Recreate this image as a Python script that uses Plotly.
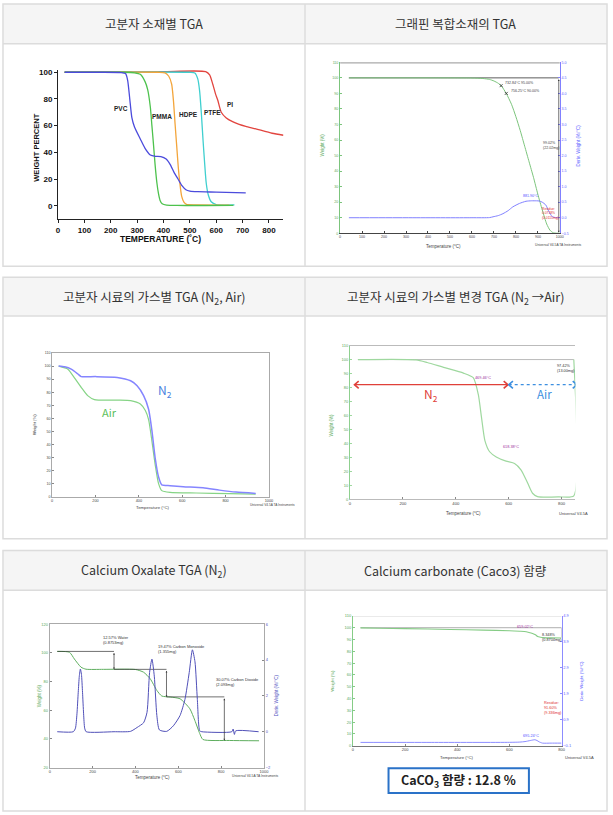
import plotly.graph_objects as go

FW, FH = 613, 815

# ---------------- DATA ----------------
header_texts = [
    "고분자 소재별 TGA",
    "그래핀 복합소재의 TGA",
    "고분자 시료의 가스별 TGA (N<sub>2</sub>, Air)",
    "고분자 시료의 가스별 변경 TGA (N<sub>2</sub> →Air)",
    "Calcium Oxalate TGA (N<sub>2</sub>)",
    "Calcium carbonate (Caco3) 함량",
]

# Chart 1: polymer TGA
c1_pvc_T = [25, 150, 240, 256, 264, 272, 280, 290, 312, 330, 350, 370, 390, 410, 425, 440, 455, 470, 485, 500, 530, 600, 712]
c1_pvc_W = [100, 100, 99.8, 99, 94, 80, 66, 59, 50, 43, 38, 37, 36.8, 35, 31, 25, 20, 15, 12, 11, 10.5, 10.2, 9.6]
c1_pmma_T = [25, 250, 290, 312, 330, 340, 350, 356, 362, 368, 375, 381, 387, 395, 412, 450, 665]
c1_pmma_W = [100, 100, 99.6, 98.5, 93, 87, 74, 60, 46, 31, 17, 9, 4, 1.5, 0.5, 0.2, 0.3]
c1_hdpe_T = [25, 380, 406, 420, 431, 438, 444, 450, 456, 462, 469, 478, 487, 520, 650]
c1_hdpe_W = [100, 100, 99.5, 97, 91, 78, 61, 45, 29, 17, 7, 2.5, 1, 0.6, 0.5]
c1_ptfe_T = [25, 500, 519, 530, 537, 544, 550, 556, 562, 570, 581, 600, 669]
c1_ptfe_W = [100, 100, 99.5, 95, 86, 68, 49, 32, 17, 8, 3, 0.8, 0.6]
c1_pi_T = [25, 200, 400, 560, 575, 587, 597, 606, 619, 637, 662, 687, 712, 750, 812, 855]
c1_pi_W = [100, 100.2, 100.5, 100.5, 98, 91, 84, 79, 70, 66, 63, 61, 59.5, 57.6, 54.3, 52.8]
c1_label_names = ["PVC", "PMMA", "HDPE", "PTFE", "PI"]
c1_label_T = [237, 394, 494, 587, 652]
c1_label_W = [72.5, 67, 68, 70, 76]
c1_xticks = [0, 100, 200, 300, 400, 500, 600, 700, 800]
c1_yticks = [0, 20, 40, 60, 80, 100]

# Chart 2: graphene composite TGA
c2_T = [40, 200, 400, 600, 650, 680, 700, 720, 733, 756, 780, 800, 820, 840, 860, 880, 900, 920, 940, 955, 970, 985, 1000]
c2_W = [100, 100, 100, 99.9, 99.6, 99, 98, 96.5, 95, 90, 83, 75, 66, 56, 46, 36, 25, 15, 6, 2, 0.3, 0.05, 0.02]
c2_dT = [40, 300, 600, 680, 696, 720, 741, 765, 786, 816, 846, 870, 883, 905, 920, 936, 950, 965, 980, 1000]
c2_dW = [0, 0, 0, 0.005, 0.03, 0.07, 0.13, 0.23, 0.35, 0.46, 0.53, 0.545, 0.545, 0.54, 0.5, 0.41, 0.2, 0.04, 0.005, 0]
c2_mark_T = [732.84, 756.25]
c2_mark_W = [95.0, 90.0]
c2_step_T = [40, 995]
c2_step_W = [100, 0]

# Chart 3: polymer TGA in N2 and Air
c3_n2_T = [30, 58, 88, 119, 134, 200, 300, 362, 392, 422, 445, 460, 475, 491, 506, 544, 605, 696, 772, 848, 939]
c3_n2_W = [100.2, 99.5, 97.7, 94, 92, 92, 91.4, 88.8, 85, 77.4, 67, 51, 30, 15, 9, 8.4, 7.6, 6.8, 5, 3.5, 2.5]
c3_air_T = [30, 73, 103, 134, 164, 195, 300, 362, 407, 430, 445, 460, 475, 491, 506, 544, 665, 817, 939]
c3_air_W = [100, 97.7, 91, 83.8, 77.4, 74.4, 74, 73.6, 71, 66, 59, 43, 25, 10, 4.6, 3.3, 2.8, 2.3, 2]

# Chart 4: gas switch N2 -> Air
c4_T = [30, 250, 292, 354, 429, 466, 485, 497, 510, 528, 553, 590, 622, 647, 672, 690, 709, 790, 846, 846]
c4_W = [100, 99.8, 97.9, 94.4, 90.3, 87, 75, 58.8, 42, 34, 30.3, 27.3, 25.6, 20.9, 11.4, 4.3, 1.9, 1.7, 2.4, 100]
c4_ref_T = [30, 846]
c4_ref_W = [100, 100]
c4_n2_range = [17, 597]
c4_air_range = [600, 858]
c4_arrow_W = 82

# Chart 5: calcium oxalate
c5_T = [35, 92, 115, 146, 169, 250, 400, 438, 469, 500, 523, 562, 608, 654, 677, 700, 715, 838, 977]
c5_W = [101, 100.4, 95.7, 90, 88.6, 88.5, 88.4, 86.5, 81.9, 73.8, 69.9, 69.2, 68, 61, 53, 43.8, 39.6, 38.9, 38.7]
c5_dT = [35, 110, 120, 127, 133, 138, 143, 148, 153, 158, 163, 170, 300, 377, 408, 438, 454, 466, 477, 488, 500, 512,
         546, 577, 608, 631, 651, 666, 678, 689, 700, 710, 850, 856, 862, 868, 975]
c5_dW = [0, 0, 0.2, 1.0, 2.2, 3.1, 3.5, 3.2, 2.2, 1.0, 0.2, 0, 0, 0.02, 0.24, 0.5, 1.08, 3.3, 4.05, 3.1, 0.9, 0.1,
         0.02, 0.33, 0.9, 1.8, 3.3, 4.57, 3.9, 1.8, 0.05, 0, 0, 0.15, -0.15, 0.05, 0]
c5_step_T = [35, 300, 545, 815]
c5_step_W = [101, 88.5, 69.3, 38.8]

# Chart 6: calcium carbonate
c6_T = [29, 100, 200, 373, 500, 600, 640, 657, 675, 689, 700, 708, 720, 727, 760, 800]
c6_W = [99.9, 99.6, 99.2, 98.5, 98, 97.4, 97, 96.8, 96, 95.1, 94, 92.6, 91.9, 91.6, 91.4, 91.3]
c6_dT = [29, 300, 600, 640, 660, 680, 690, 698, 706, 714, 727, 760, 800]
c6_dW = [0.028, 0.028, 0.03, 0.04, 0.06, 0.1, 0.12, 0.13, 0.1, 0.05, 0.0, 0.0, 0.0]
c6_ref_T = [29, 800, 800]
c6_ref_W = [100, 100, 91.6]
caco3_text = "CaCO<sub>3</sub> 함량 : 12.8 %"

# ---------------- HELPERS ----------------
SANS = "Liberation Sans, Arial, sans-serif"
KR = "Noto Sans CJK KR, Noto Sans, sans-serif"


def r(n):
    return "" if n == 1 else str(n)


def xdom(a, b):
    return [a / FW, b / FW]


def ydom(top, bot):
    return [1 - bot / FH, 1 - top / FH]


def px(x):
    return x / FW


def py(y):
    return 1 - y / FH


layout = dict(
    width=FW, height=FH, margin=dict(l=0, r=0, t=0, b=0),
    paper_bgcolor="white", plot_bgcolor="rgba(0,0,0,0)", showlegend=False,
    font=dict(family=SANS, color="#333"),
)
shapes = []
annotations = []
fig = go.Figure()


def xax(n, dom, rng, yn, **kw):
    d = dict(domain=xdom(*dom), range=rng, anchor="y" + r(yn), showgrid=False, zeroline=False,
             fixedrange=True)
    d.update(kw)
    layout["xaxis" + r(n)] = d


def yax(n, dom, rng, xn, **kw):
    d = dict(domain=ydom(*dom), range=rng, anchor="x" + r(xn), showgrid=False, zeroline=False,
             fixedrange=True)
    d.update(kw)
    layout["yaxis" + r(n)] = d


def line(x, y, xn, yn, color, width=1.0, dash="solid"):
    fig.add_trace(go.Scatter(x=x, y=y, xaxis="x" + r(xn), yaxis="y" + r(yn), mode="lines",
                             line=dict(color=color, width=width, dash=dash, shape="spline", smoothing=0.6),
                             hoverinfo="skip"))


def straight(x, y, xn, yn, color, width=1.0, dash="solid"):
    fig.add_trace(go.Scatter(x=x, y=y, xaxis="x" + r(xn), yaxis="y" + r(yn), mode="lines",
                             line=dict(color=color, width=width, dash=dash), hoverinfo="skip"))


def ann(text, x, y, xref="paper", yref="paper", size=5, color="#333", family=SANS, weight="normal", **kw):
    d = dict(text=text, x=x, y=y, xref=xref, yref=yref, showarrow=False,
             xanchor="center", yanchor="middle",
             font=dict(size=size, color=color, family=family, weight=weight))
    d.update(kw)
    annotations.append(d)


def arrow(xn, yn, x0, y0, x1, y1, color="#222", size=0.5, width=0.7):
    annotations.append(dict(text="", x=x1, y=y1, ax=x0, ay=y0, xref="x" + r(xn), yref="y" + r(yn),
                            axref="x" + r(xn), ayref="y" + r(yn), showarrow=True, arrowhead=2,
                            arrowside="end+start", arrowsize=size, arrowwidth=width, arrowcolor=color))


# ---------------- TABLE FRAME ----------------
BORDER = "#dcdcdc"
tables = [(1, 265, 41), (276, 539, 315), (551, 813, 591)]
for top, bot, hb in tables:
    shapes.append(dict(type="rect", xref="paper", yref="paper", x0=px(1), x1=px(612), y0=py(hb), y1=py(top),
                       fillcolor="#f5f5f5", line=dict(width=0), layer="below"))
    shapes.append(dict(type="rect", xref="paper", yref="paper", x0=px(1), x1=px(612), y0=py(bot), y1=py(top),
                       fillcolor="rgba(0,0,0,0)", line=dict(color=BORDER, width=1.5), layer="below"))
    shapes.append(dict(type="line", xref="paper", yref="paper", x0=px(1), x1=px(612), y0=py(hb), y1=py(hb),
                       line=dict(color=BORDER, width=1.5), layer="below"))
    shapes.append(dict(type="line", xref="paper", yref="paper", x0=px(306.5), x1=px(306.5), y0=py(bot), y1=py(top),
                       line=dict(color=BORDER, width=1.5), layer="below"))

header_pos = [(154, 21), (459, 21), (154, 296), (459, 296), (154, 571), (459, 571)]
for t, (hx, hy) in zip(header_texts, header_pos):
    ann(t, px(hx), py(hy), size=12.5, color="#333", family=KR)

# ---------------- CHART 1 ----------------
tf1 = dict(family=SANS, size=8, color="#111", weight="bold")
xax(1, (56.7, 284.7), [0, 855], 1, showline=True, linecolor="#222", linewidth=1, ticks="outside",
    ticklen=3, tickcolor="#222", tickvals=c1_xticks, tickfont=tf1)
yax(1, (67, 217.4), [-10, 102], 1, showline=True, linecolor="#222", linewidth=1, ticks="outside",
    ticklen=3, tickcolor="#222", tickvals=c1_yticks, tickfont=tf1)
for T, Wv, col in [(c1_pi_T, c1_pi_W, "#e2453f"), (c1_ptfe_T, c1_ptfe_W, "#3fcfcf"),
                   (c1_hdpe_T, c1_hdpe_W, "#f3a53b"), (c1_pmma_T, c1_pmma_W, "#4dc24d"),
                   (c1_pvc_T, c1_pvc_W, "#4b4bdc")]:
    line(T, Wv, 1, 1, col, 1.3)
for nm, t, w in zip(c1_label_names, c1_label_T, c1_label_W):
    ann(nm, t, w, "x", "y", size=6.5, color="#222", weight="bold")
ann("TEMPERATURE (˚C)", px(160), py(237), size=8.5, color="#111", weight="bold")
ann("WEIGHT PERCENT", px(35), py(146), size=7.5, color="#111", weight="bold", textangle=-90)

# ---------------- CHART 2 ----------------
G2, B2 = "#7cc47c", "#8080ff"
xax(2, (342, 564.3), [0, 1000], 2, showline=True, linecolor="#444", linewidth=0.8, ticks="inside", ticklen=2,
    tickcolor="#444", dtick=100, tickfont=dict(size=3.6, color="#444", family=SANS))
yax(2, (59.7, 231.7), [0, 110], 2, showline=True, linecolor=G2, linewidth=1, ticks="inside", ticklen=2,
    tickcolor=G2, dtick=10, tickfont=dict(size=3.6, color="#5aa85a", family=SANS))
yax(3, (59.7, 231.7), [-0.5, 5.0], 2, overlaying="y2", side="right", showline=True, linecolor=B2, linewidth=1,
    ticks="inside", ticklen=2, tickcolor=B2, dtick=0.5, tickformat=".1f",
    tickfont=dict(size=3.6, color="#6060ff", family=SANS))
shapes.append(dict(type="line", xref="x2", yref="y2", x0=0, x1=1000, y0=110, y1=110,
                   line=dict(color="#aaaaaa", width=2.5)))
straight(c2_step_T, [c2_step_W[0], c2_step_W[0]], 2, 2, "#333", 0.8)
arrow(2, 2, c2_step_T[1], c2_step_W[0], c2_step_T[1], c2_step_W[1] + 0.5, "#333", 0.5, 0.7)
line(c2_T, c2_W, 2, 2, G2, 1.0)
line(c2_dT, c2_dW, 2, 3, B2, 1.0)
fig.add_trace(go.Scatter(x=c2_mark_T, y=c2_mark_W, xaxis="x2", yaxis="y2", mode="markers",
                         marker=dict(symbol="x-thin", size=3, line=dict(color="#333", width=0.8)), hoverinfo="skip"))
ann("732.84°C 95.00%", 742, 96.6, "x2", "y2", size=3.6, color="#444", xanchor="left")
ann("756.25°C 90.00%", 768, 91.7, "x2", "y2", size=3.6, color="#444", xanchor="left")
ann("99.02%<br>(22.02mg)", 913, 56.5, "x2", "y2", size=3.6, color="#444", xanchor="left", align="left")
ann("881.90°C", 866, 24.3, "x2", "y2", size=3.6, color="#5050ff")
ann("Residue:<br>0.0718%<br>(0.0115mg)", 911, 12.5, "x2", "y2", size=3.3, color="#e03030", xanchor="left",
    align="left")
ann("Weight (%)", px(324), py(143), size=4.5, color="#5aa85a", textangle=-90)
ann("Deriv. Weight (%/°C)", px(583), py(143), size=4.5, color="#6060ff", textangle=-90)
ann("Temperature (°C)", px(447), py(245), size=4.5, color="#444")
ann("Universal V4.5A TA Instruments", px(563), py(243.7), size=3.3, color="#444")

# ---------------- CHART 3 ----------------
xax(3, (50.7, 270), [0, 1000], 4, showline=True, mirror=True, linecolor="#aaa", linewidth=0.8, ticks="inside",
    ticklen=2, tickcolor="#888", dtick=200, tickfont=dict(size=3.8, color="#444", family=SANS))
yax(4, (352.3, 496.7), [0, 110], 3, showline=True, mirror=True, linecolor="#aaa", linewidth=0.8, ticks="inside",
    ticklen=2, tickcolor="#888", dtick=10, tickfont=dict(size=3.6, color="#444", family=SANS))
line(c3_air_T, c3_air_W, 3, 4, "#86d486", 1.2)
line(c3_n2_T, c3_n2_W, 3, 4, "#8585ff", 1.5)
ann("N<sub>2</sub>", 521, 81, "x3", "y4", size=12, color="#4a7fe0", family=KR)
ann("Air", 263, 64.7, "x3", "y4", size=11, color="#5cbf5c", family=KR)
ann("Weight (%)", px(33), py(424), size=4.2, color="#444", textangle=-90)
ann("Temperature (°C)", px(153), py(507.7), size=4.3, color="#444")
ann("Universal V4.5A TA Instruments", px(249), py(505), size=3.2, color="#444", xanchor="left")

# ---------------- CHART 4 ----------------
G4 = "#9fd89f"
xax(4, (352, 580), [0, 852], 5, showline=True, mirror=True, linecolor="#bbb", linewidth=0.8, ticks="inside",
    ticklen=2, tickcolor="#888", tickvals=[0, 200, 400, 600, 800],
    tickfont=dict(size=4.2, color="#444", family=SANS))
yax(5, (344.7, 499.3), [0, 110], 4, showline=True, linecolor="#8fd08f", linewidth=1, ticks="inside",
    ticklen=2, tickcolor=G4, dtick=10, tickfont=dict(size=4.0, color="#5aa85a", family=SANS))
straight(c4_ref_T, c4_ref_W, 4, 5, "#aaaaaa", 0.8)
line(c4_T, c4_W, 4, 5, G4, 1.2)
# arrows (line + open chevrons)
adx, ady = 16, 2.6
a0, a1 = c4_n2_range
straight([a0, a1], [c4_arrow_W, c4_arrow_W], 4, 5, "#e0403a", 1.3)
straight([a0 + adx, a0, a0 + adx], [c4_arrow_W + ady, c4_arrow_W, c4_arrow_W - ady], 4, 5, "#e0403a", 1.6)
straight([a1 - adx, a1, a1 - adx], [c4_arrow_W + ady, c4_arrow_W, c4_arrow_W - ady], 4, 5, "#e0403a", 1.6)
b0, b1 = c4_air_range
straight([b0, b1], [c4_arrow_W, c4_arrow_W], 4, 5, "#3d8fe0", 1.3, "dot")
straight([b0 + adx, b0, b0 + adx], [c4_arrow_W + ady, c4_arrow_W, c4_arrow_W - ady], 4, 5, "#3d8fe0", 1.6)
straight([b1 - adx, b1, b1 - adx], [c4_arrow_W + ady, c4_arrow_W, c4_arrow_W - ady], 4, 5, "#3d8fe0", 1.6)
ann("N<sub>2</sub>", 308, 75, "x4", "y5", size=12, color="#e0403a", family=KR)
ann("Air", 734, 75, "x4", "y5", size=11.5, color="#3d8fe0", family=KR)
ann("469.46°C", 503, 86.8, "x4", "y5", size=3.8, color="#a030a0")
ann("618.38°C", 609, 37.7, "x4", "y5", size=3.8, color="#a030a0")
ann("97.42%<br>(13.00mg)", 776, 93.7, "x4", "y5", size=3.8, color="#333", xanchor="left", align="left")
ann("Weight (%)", px(333), py(425), size=4.5, color="#5aa85a", textangle=-90)
ann("Temperature (°C)", px(467), py(513.7), size=4.5, color="#444")
ann("Universal V4.5A", px(578), py(513.7), size=4.0, color="#444")

# ---------------- CHART 5 ----------------
G5, B5 = "#5fae5f", "#5050b8"
xax(5, (48.3, 265), [0, 1000], 6, showline=True, mirror=True, linecolor="#aaa", linewidth=0.8, ticks="inside",
    ticklen=2, tickcolor="#888", dtick=200, tickfont=dict(size=4.0, color="#444", family=SANS))
yax(6, (625, 769.3), [20, 120], 5, showline=True, linecolor="#aaa", linewidth=0.8, ticks="inside",
    ticklen=2, tickcolor="#888", dtick=20, tickfont=dict(size=4.0, color="#5aa85a", family=SANS))
yax(7, (625, 769.3), [-2, 6], 5, overlaying="y6", side="right", showline=True, linecolor="#aaa", linewidth=0.8,
    ticks="inside", ticklen=2, tickcolor="#888", dtick=2, tickfont=dict(size=4.0, color="#5050c0", family=SANS))
line(c5_dT, c5_dW, 5, 7, B5, 1.0)
line(c5_T, c5_W, 5, 6, G5, 1.0)
for i in range(len(c5_step_T) - 1):
    straight([c5_step_T[i], c5_step_T[i + 1]], [c5_step_W[i], c5_step_W[i]], 5, 6, "#333", 0.7)
    arrow(5, 6, c5_step_T[i + 1], c5_step_W[i], c5_step_T[i + 1], c5_step_W[i + 1], "#333", 0.5, 0.7)
ann("12.57% Water<br>(0.8753mg)", 240, 109.2, "x5", "y6", size=4.0, color="#333", xanchor="left", align="left")
ann("19.47% Carbon Monoxide<br>(1.355mg)", 494, 102.7, "x5", "y6", size=4.0, color="#333", xanchor="left",
    align="left")
ann("30.07% Carbon Dioxide<br>(2.093mg)", 766, 80, "x5", "y6", size=4.0, color="#333", xanchor="left",
    align="left")
ann("Weight (%)", px(38), py(697), size=4.5, color="#5aa85a", textangle=-90)
ann("Deriv. Weight (%/°C)", px(277.7), py(697), size=4.5, color="#5050c0", textangle=-90)
ann("Temperature (°C)", px(152), py(779.3), size=4.5, color="#444")
ann("Universal V4.5A TA Instruments", px(256), py(778), size=3.3, color="#444")

# ---------------- CHART 6 ----------------
G6, B6 = "#86cc86", "#8c8cff"
xax(6, (355, 566), [0, 800], 8, showline=True, linecolor="#777", linewidth=0.8, ticks="inside",
    ticklen=2, tickcolor="#888", dtick=200, tickfont=dict(size=4.0, color="#444", family=SANS))
yax(8, (616.7, 747.3), [0, 110], 6, showline=True, linecolor=G6, linewidth=0.8, ticks="inside",
    ticklen=2, tickcolor=G6, dtick=10, tickfont=dict(size=4.0, color="#5aa85a", family=SANS))
yax(9, (616.7, 747.3), [-0.1, 4.9], 6, overlaying="y8", side="right", showline=True, linecolor=B6,
    linewidth=0.8, ticks="inside", ticklen=2, tickcolor=B6, tickvals=[-0.1, 0.9, 1.9, 2.9, 3.9, 4.9],
    tickformat=".1f", tickfont=dict(size=4.0, color="#6060ff", family=SANS))
shapes.append(dict(type="line", xref="x6", yref="y8", x0=0, x1=800, y0=110, y1=110,
                   line=dict(color="#cccccc", width=1)))
straight(c6_ref_T, c6_ref_W, 6, 8, "#999999", 0.8)
line(c6_T, c6_W, 6, 8, G6, 1.1)
line(c6_dT, c6_dW, 6, 9, B6, 1.0)
ann("659.02°C", 661, 100.8, "x6", "y8", size=3.8, color="#a030a0")
ann("8.348%<br>(0.8704mg)", 716, 91.8, "x6", "y8", size=3.8, color="#333", xanchor="left", align="left")
ann("Residue:<br>91.60%<br>(9.336mg)", 726, 32, "x6", "y8", size=3.8, color="#e03030", xanchor="left",
    align="left")
ann("695.24°C", 683, 8.4, "x6", "y8", size=3.8, color="#5050ff")
ann("Weight (%)", px(334), py(681.7), size=4.3, color="#5aa85a", textangle=-90)
ann("Deriv. Weight (%/°C)", px(586), py(681.7), size=4.3, color="#6060ff", textangle=-90)
ann("Temperature (°C)", px(460), py(759.3), size=4.3, color="#444")
ann("Universal V4.5A", px(567), py(759.3), size=4.0, color="#444", xanchor="left")

shapes.append(dict(type="rect", xref="paper", yref="paper", x0=px(391), x1=px(533), y0=py(795), y1=py(770),
                   fillcolor="white", line=dict(color="#2a72c8", width=2)))
ann(caco3_text, px(462), py(782.5), size=12.5, color="#222", family=KR, weight="bold")

layout["shapes"] = shapes
layout["annotations"] = annotations
fig.update_layout(**layout)
fig.write_html(
    "out.html",
    config={"displayModeBar": False},
    post_script="document.body.style.margin='0';document.body.style.overflow='hidden';",
)
